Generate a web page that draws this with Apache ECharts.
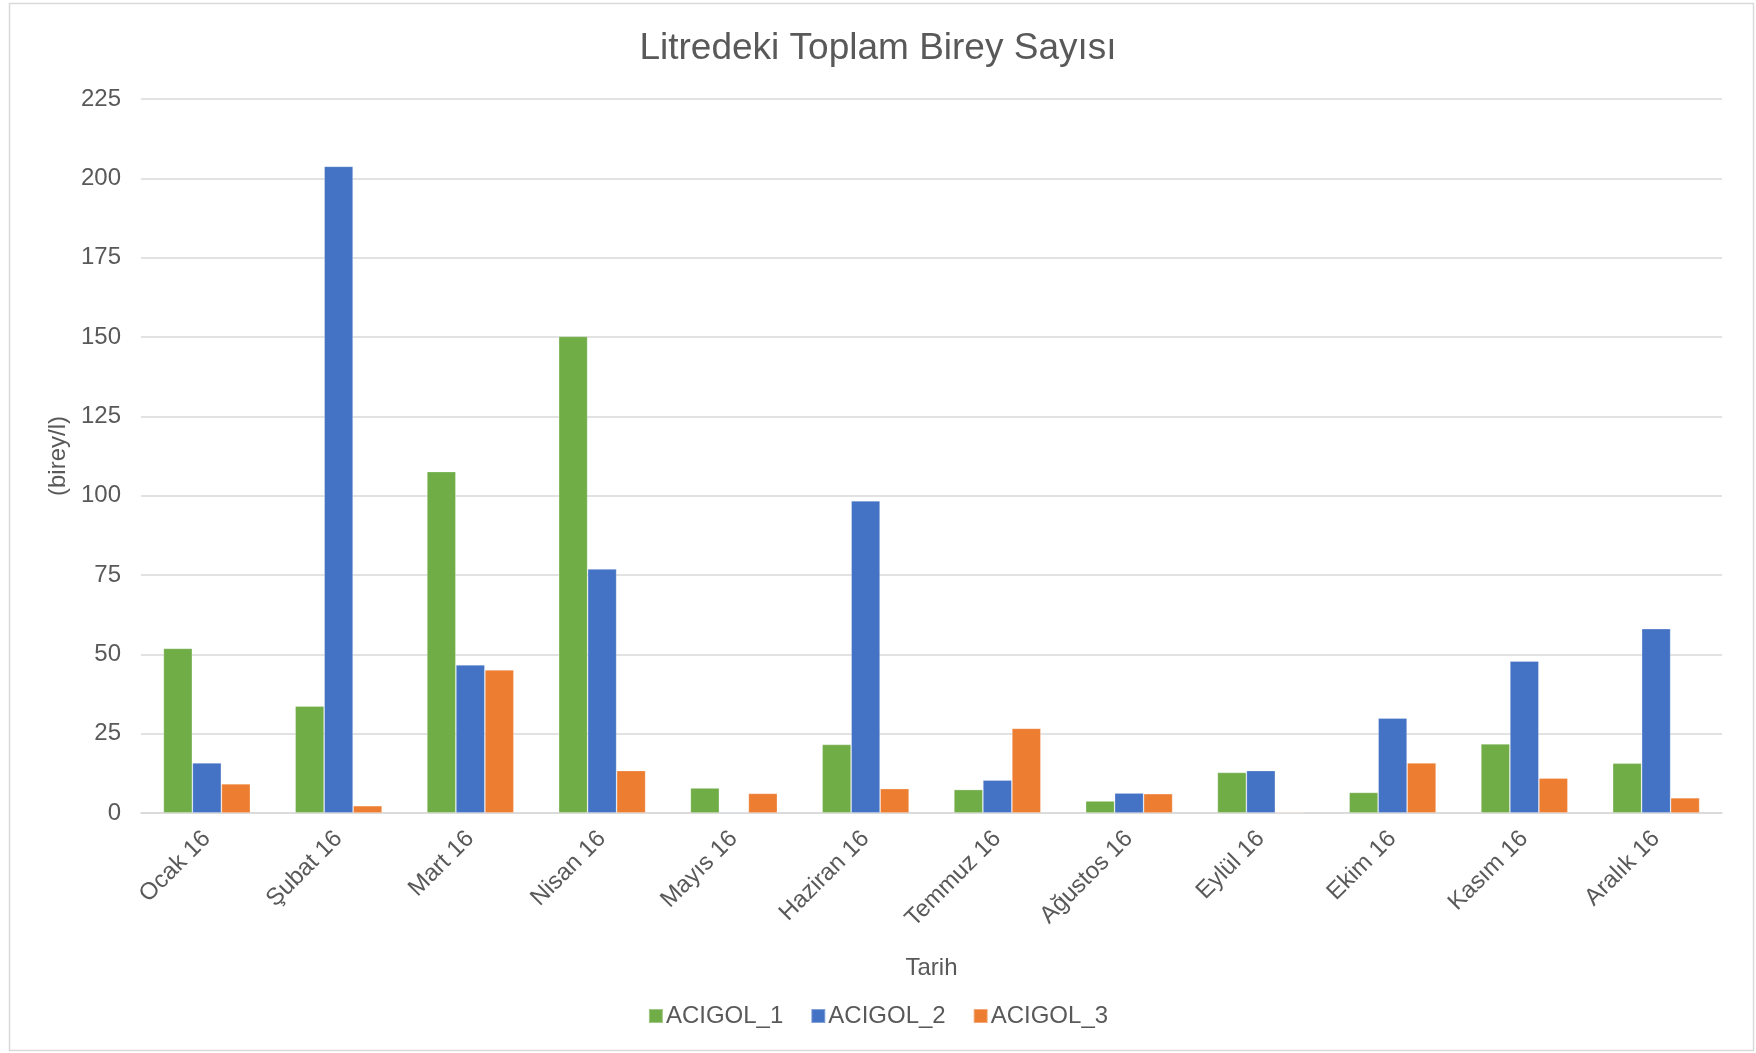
<!DOCTYPE html>
<html>
<head>
<meta charset="utf-8">
<script src="https://cdn.jsdelivr.net/npm/echarts@6/dist/echarts.min.js"></script>
<style>
  html, body { margin: 0; padding: 0; background: #ffffff; }
  #chart { width: 1756px; height: 1053px; }
</style>
</head>
<body>
<div id="chart"></div>
<script>
// Monthly totals (individuals per litre) for the three Acıgöl stations, 2016
const months = ['Ocak 16', 'Şubat 16', 'Mart 16', 'Nisan 16', 'Mayıs 16', 'Haziran 16',
                'Temmuz 16', 'Ağustos 16', 'Eylül 16', 'Ekim 16', 'Kasım 16', 'Aralık 16'];
const acigol1 = [51.9, 33.7, 107.6, 150.2, 7.9, 21.6, 7.4, 3.8, 12.8, 6.5, 21.8, 15.7];
const acigol2 = [15.8, 203.8, 46.7, 76.9, 0.3, 98.4, 10.4, 6.3, 13.4, 29.9, 47.9, 58.1];
const acigol3 = [9.2, 2.3, 45.1, 13.4, 6.2, 7.7, 26.7, 6.1, 0.3, 15.8, 11.0, 4.8];
const seriesNames = ['ACIGOL_1', 'ACIGOL_2', 'ACIGOL_3'];
const seriesColors = ['#70AD47', '#4472C4', '#ED7D31'];

const textColor = '#595959';
const gridColor = '#D9D9D9';
const font = '"Liberation Sans", Arial, sans-serif';

const chart = echarts.init(document.getElementById('chart'), null, { renderer: 'canvas' });

function barSeries(name, data, color) {
  return {
    name: name,
    type: 'bar',
    data: data,
    barWidth: 29,
    barGap: '0%',
    itemStyle: { color: color, borderColor: 'rgba(255,255,255,0.35)', borderWidth: 0.8 }
  };
}

chart.setOption({
  backgroundColor: '#ffffff',
  animation: false,
  color: seriesColors,
  textStyle: { fontFamily: font },
  title: {
    text: 'Litredeki Toplam Birey Sayısı',
    left: 'center',
    top: 25,
    textStyle: { color: textColor, fontSize: 37, fontWeight: 'normal', fontFamily: font }
  },
  graphic: [{
    type: 'rect',
    shape: { x: 9.5, y: 3.5, width: 1744, height: 1047 },
    style: { fill: 'none', stroke: gridColor, lineWidth: 1.5 },
    silent: true,
    z: -1
  }],
  legend: {
    data: seriesNames,
    bottom: 20,
    left: 'center',
    icon: 'rect',
    itemWidth: 14,
    itemHeight: 14,
    itemGap: 27,
    textStyle: { color: textColor, fontSize: 24, fontFamily: font, padding: [0, 0, 0, -2] }
  },
  grid: { left: 141, right: 34, top: 99, bottom: 240, containLabel: false },
  xAxis: {
    type: 'category',
    data: months,
    name: 'Tarih',
    nameLocation: 'middle',
    nameGap: 143,
    nameTextStyle: { color: textColor, fontSize: 24, fontFamily: font },
    axisLine: { show: true, lineStyle: { color: gridColor, width: 1.5 } },
    axisTick: { show: false },
    axisLabel: {
      color: textColor,
      fontSize: 24,
      fontFamily: font,
      rotate: 45,
      margin: 22,
      interval: 0
    }
  },
  yAxis: {
    type: 'value',
    min: 0,
    max: 225,
    interval: 25,
    name: '(birey/l)',
    nameLocation: 'middle',
    nameGap: 67,
    nameRotate: 90,
    nameTextStyle: { color: textColor, fontSize: 24, fontFamily: font },
    axisLine: { show: false },
    axisTick: { show: false },
    axisLabel: { color: textColor, fontSize: 24, fontFamily: font, margin: 20 },
    splitLine: { lineStyle: { color: gridColor, width: 1.5 } }
  },
  series: [
    barSeries(seriesNames[0], acigol1, seriesColors[0]),
    barSeries(seriesNames[1], acigol2, seriesColors[1]),
    barSeries(seriesNames[2], acigol3, seriesColors[2])
  ]
});
</script>
</body>
</html>
